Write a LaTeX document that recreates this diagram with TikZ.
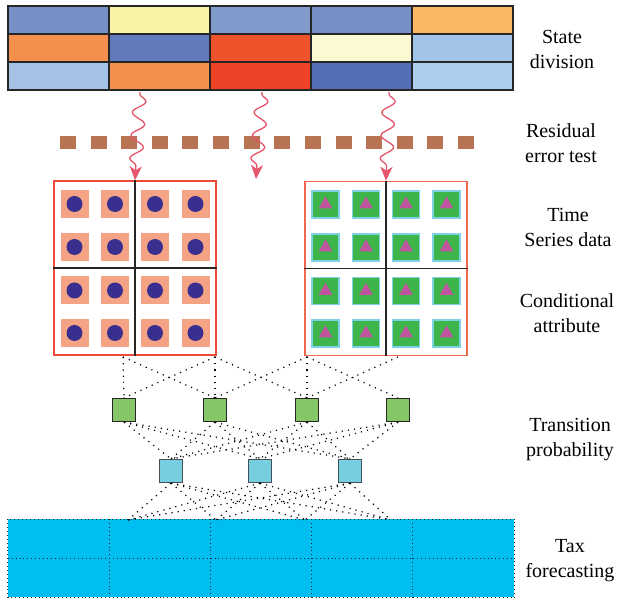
\documentclass[tikz,border=0pt]{standalone}
\usepackage{fontspec}
\setmainfont{Liberation Serif}
\usepackage{tikz}
\usetikzlibrary{arrows.meta,decorations.pathmorphing,shapes.geometric}

\definecolor{cA}{HTML}{7490C6}
\definecolor{cB}{HTML}{F7F4A6}
\definecolor{cC}{HTML}{7F9ACB}
\definecolor{cD}{HTML}{FBB662}
\definecolor{cE}{HTML}{F58F4E}
\definecolor{cF}{HTML}{6279BB}
\definecolor{cG}{HTML}{EF532B}
\definecolor{cH}{HTML}{FBF8D2}
\definecolor{cI}{HTML}{A1C4E8}
\definecolor{cJ}{HTML}{A4C2E6}
\definecolor{cK}{HTML}{EE4326}
\definecolor{cL}{HTML}{556FB6}
\definecolor{cM}{HTML}{ABCFEC}
\definecolor{waveRed}{HTML}{E5566A}
\definecolor{residBrown}{HTML}{B87353}
\definecolor{salmonSq}{HTML}{F4A384}
\definecolor{navyDot}{HTML}{3A2F8E}
\definecolor{greenSq}{HTML}{3DB54A}
\definecolor{greenRim}{HTML}{7DD3E2}
\definecolor{magTri}{HTML}{C1549F}
\definecolor{probGreen}{HTML}{85C768}
\definecolor{probBlue}{HTML}{77CEDF}
\definecolor{taxCyan}{HTML}{00BDF2}
\definecolor{panelRedL}{HTML}{EE4B3A}
\definecolor{panelRedR}{HTML}{F0674F}

\begin{document}
\begin{tikzpicture}[x=1pt, y=-1pt,
  cell/.style={rectangle, draw=black!85, line width=1.5pt, inner sep=0pt,
               minimum width=101pt, minimum height=28pt},
  wave/.style={draw=waveRed, line width=1.3pt,
               -{Stealth[length=14pt, width=12pt, inset=4pt]},
               decorate, decoration={snake, amplitude=6.5pt, segment length=23pt,
               pre length=2pt, post length=12pt}},
  panel/.style={rectangle, draw, line width=1.4pt, inner sep=0pt,
                minimum width=162pt, minimum height=174pt},
  divider/.style={draw=black!85, line width=1.3pt},
  salsq/.style={rectangle, fill=salmonSq, inner sep=0pt, minimum size=28pt},
  disc/.style={circle, fill=navyDot, inner sep=0pt, minimum size=16pt},
  grnsq/.style={rectangle, fill=greenSq, draw=greenRim, line width=1.3pt,
                inner sep=0pt, minimum size=27pt},
  tri/.style={regular polygon, regular polygon sides=3, fill=magTri,
              inner sep=0pt, minimum size=16pt},
  pbox/.style={rectangle, draw=black!85, line width=1.3pt, inner sep=0pt,
               minimum size=23pt},
  link/.style={draw=black, line width=1.2pt, dash pattern=on 1.2pt off 5pt},
  griddot/.style={draw=black!85, line width=0.8pt, dash pattern=on 0.9pt off 3pt},
  lbl/.style={align=center, inner sep=0pt, font=\fontsize{20}{25}\selectfont}
]
\useasboundingbox (0,0) rectangle (625,601);

% state division grid
\foreach \col [count=\i from 0] in {cA,cB,cC,cA,cD, cE,cF,cG,cH,cI, cJ,cE,cK,cL,cM}{
  \pgfmathtruncatemacro\r{div(\i,5)}
  \pgfmathtruncatemacro\c{mod(\i,5)}
  \node[cell, fill=\col] (s\r\c) at (58.5+101*\c, 20+28*\r) {};
}

% residual error test
\draw[residBrown, line width=13pt, dash pattern=on 16pt off 14.62pt] (60,142.5) -- (474,142.5);

% time series panels
\node[panel, draw=panelRedL] (tsL) at (135,268) {};
\node[panel, draw=panelRedR] (tsR) at (386,268.5) {};
\foreach \dx [count=\i] in {-60.5,-20,20,60.5}
  \foreach \dy [count=\j] in {-64,-21,22.5,65}{
    \node[salsq] (ls\i\j) at ([shift={(\dx,\dy)}]tsL.center) {};
    \node[disc] (ld\i\j) at (ls\i\j) {};
    \node[grnsq] (rs\i\j) at ([shift={(\dx,\dy)}]tsR.center) {};
    \node[tri] (rt\i\j) at (rs\i\j) {};
  }
\draw[divider] (tsL.north) -- (tsL.south);
\draw[divider] (tsL.west) -- (tsL.east);
\draw[divider] (tsR.north) -- (tsR.south);
\draw[divider] (tsR.west) -- (tsR.east);

% wavy arrows
\coordinate (w1) at (140,92);
\coordinate (w2) at (262,92);
\coordinate (w3) at (389,92);
\coordinate (gap) at (256,179);
\draw[wave] (w1) -- (tsL.north);
\draw[wave] (w2) -- (gap);
\draw[wave] (w3) -- (tsR.north);

% transition probability
\node[pbox, fill=probGreen] (g1) at (124,410) {};
\node[pbox, fill=probGreen] (g2) at (215,410) {};
\node[pbox, fill=probGreen] (g3) at (307,410) {};
\node[pbox, fill=probGreen] (g4) at (398,410) {};
\node[pbox, fill=probBlue, draw=black!75!cyan] (b1) at (171,471) {};
\node[pbox, fill=probBlue, draw=black!75!cyan] (b2) at (260,471) {};
\node[pbox, fill=probBlue, draw=black!75!cyan] (b3) at (350,471) {};

\coordinate (p1) at (123,357);
\coordinate (p2) at (215,357);
\coordinate (p3) at (307,357);
\coordinate (p4) at (398,357);
\draw[link] (p1) -- (g1.north);
\draw[link] (p1) -- (g2.north);
\draw[link] (p2) -- (g1.north);
\draw[link] (p2) -- (g2.north);
\draw[link] (p2) -- (g3.north);
\draw[link] (p3) -- (g2.north);
\draw[link] (p3) -- (g3.north);
\draw[link] (p3) -- (g4.north);
\draw[link] (p4) -- (g3.north);
\foreach \g in {g1,g2,g3,g4}
  \foreach \b in {b1,b2,b3}
    \draw[link] (\g.south) -- (\b.north);

% tax forecasting band
\node[rectangle, fill=taxCyan, inner sep=0pt, minimum width=506pt,
      minimum height=78pt] (tax) at (261,558.5) {};
\draw[griddot] (tax.north west) rectangle (tax.south east);
\draw[griddot] (tax.west) -- (tax.east);
\foreach \k in {1,...,4}
  \draw[griddot] ([xshift=\k*101.2pt]tax.north west) -- ([xshift=\k*101.2pt]tax.south west);

\coordinate (q1) at (128,520);
\coordinate (q2) at (216,520);
\coordinate (q3) at (305,520);
\coordinate (q4) at (391,520);
\foreach \b in {b1,b2,b3}
  \foreach \q in {q1,q2,q3,q4}
    \draw[link] (\b.south) -- (\q);

% labels
\node[lbl] (lbState) at (562,49) {State\\division};
\node[lbl] (lbResid) at (561,143.5) {Residual\\error test};
\node[lbl] (lbTime) at (568,227.5) {Time\\Series data};
\node[lbl] (lbCond) at (567,313.5) {Conditional\\attribute};
\node[lbl] (lbTrans) at (570,439.5) {Transition\\probability};
\node[lbl] (lbTax) at (570,560.5) {Tax\\forecasting};

\end{tikzpicture}
\end{document}
